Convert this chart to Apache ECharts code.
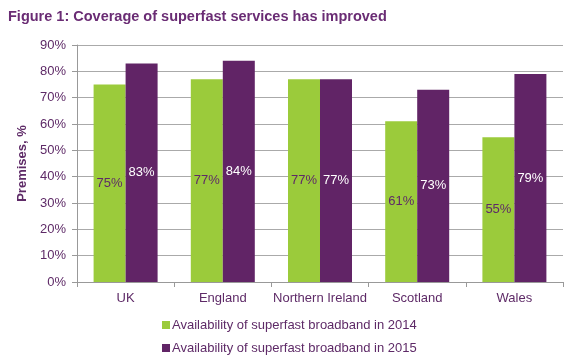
<!DOCTYPE html>
<html><head><meta charset="utf-8">
<script src="https://cdn.jsdelivr.net/npm/echarts@6/dist/echarts.min.js"></script>
<style>html,body{margin:0;padding:0;background:#fff}#c{width:585px;height:361px}</style>
</head><body><div id="c"></div>
<script>
const categories = ['UK', 'England', 'Northern Ireland', 'Scotland', 'Wales'];
const values2014 = [75, 77, 77, 61, 55];
const values2015 = [83, 84, 77, 73, 79];
const seriesNames = ['Availability of superfast broadband in 2014', 'Availability of superfast broadband in 2015'];
const purple = '#612466', green = '#9BCB3B', textPurple = '#5E2A67';
const font = 'Liberation Sans, Arial, sans-serif';
const chart = echarts.init(document.getElementById('c'));
chart.setOption({
  animation: false,
  title: { text: 'Figure 1: Coverage of superfast services has improved', left: 3, top: 4,
    textStyle: { fontFamily: font, fontSize: 14.5, fontWeight: 'bold', color: '#6A2C74' } },
  grid: { left: 77, right: 22, top: 45, bottom: 79, containLabel: false },
  legend: { orient: 'vertical', left: 162, top: 317, padding: 0, itemWidth: 8, itemHeight: 8, itemGap: 7, icon: 'rect',
    textStyle: { fontFamily: font, fontSize: 13, lineHeight: 16, color: textPurple, padding: [0,0,0,-3] } },
  xAxis: { type: 'category', data: categories,
    axisLine: { lineStyle: { color: '#999' } },
    axisTick: { show: true, alignWithLabel: false, length: 5, lineStyle: { color: '#999' } },
    axisLabel: { interval: 0, fontFamily: font, fontSize: 13, color: textPurple, margin: 10 } },
  yAxis: { type: 'value', min: 0, max: 90, interval: 10,
    name: 'Premises, %', nameLocation: 'middle', nameGap: 38,
    nameTextStyle: { fontFamily: font, fontSize: 13, fontWeight: 'bold', color: textPurple },
    axisLine: { show: true, lineStyle: { color: '#999' } },
    axisTick: { show: true, inside: false, length: 5, lineStyle: { color: '#999' } },
    splitLine: { lineStyle: { color: '#aaa' } },
    axisLabel: { fontFamily: font, fontSize: 13, color: textPurple, margin: 11, formatter: '{value}%' } },
  series: [
    { name: seriesNames[0], type: 'bar', data: values2014, barWidth: 32, barGap: '0%',
      itemStyle: { color: green },
      label: { show: true, position: 'inside', formatter: '{c}%', fontFamily: font, fontSize: 13, color: textPurple } },
    { name: seriesNames[1], type: 'bar', data: values2015, barWidth: 32, barGap: '0%',
      itemStyle: { color: purple },
      label: { show: true, position: 'inside', formatter: '{c}%', fontFamily: font, fontSize: 13, color: '#fff' } }
  ]
});
</script></body></html>
